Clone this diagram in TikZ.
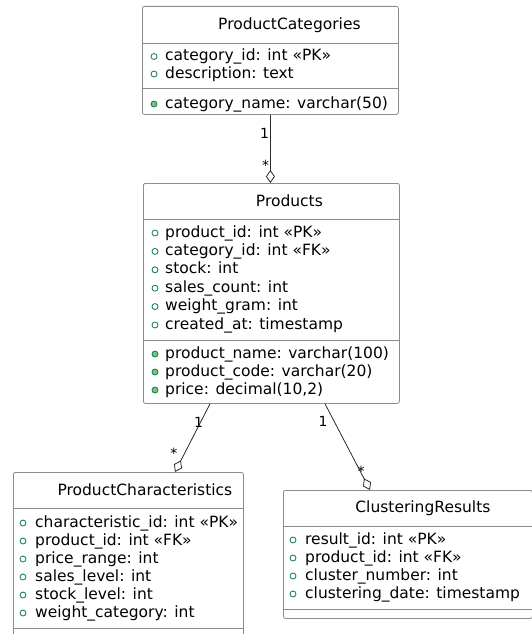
\documentclass[tikz,border=0pt]{standalone}
\usepackage{fontspec}
\setmainfont{DejaVu Sans}
\usetikzlibrary{calc,positioning,arrows.meta}

\definecolor{umlgray}{HTML}{8C8C8C}
\definecolor{umlline}{HTML}{2A2A2A}
\definecolor{fldgreen}{HTML}{038048}
\definecolor{mthgreen}{HTML}{84BE84}

\tikzset{
  classbox/.style={rectangle, draw=umlgray, line width=0.8pt, rounded corners=2pt,
    fill=white, anchor=north west, inner sep=0pt},
  ctitle/.style={inner sep=0pt, font=\fontsize{15.5}{18}\selectfont},
  attr/.style={anchor=west, inner sep=0pt, text height=11.5pt, text depth=3.5pt,
    font=\fontsize{15.5}{18}\selectfont},
  fld/.style={circle, draw=fldgreen, line width=0.8pt, inner sep=0pt, minimum size=6pt},
  mth/.style={fld, fill=mthgreen},
  sepline/.style={draw=umlgray, line width=0.8pt},
  assoc/.style={draw=umlline, line width=0.8pt, -{Diamond[open,length=13pt,width=9pt]}},
  mult/.style={inner sep=1pt, font=\fontsize{14}{16}\selectfont}
}

\begin{document}
\begin{tikzpicture}[x=1pt,y=-1pt]
\useasboundingbox (0,0) rectangle (531,634);

% boxes
\node[classbox, minimum width=256, minimum height=108] (cat) at (142,6) {};
\node[classbox, minimum width=256, minimum height=220] (prod) at (143,183) {};
\node[classbox, minimum width=230, minimum height=200] (chr) at (13,472) {};
\node[classbox, minimum width=249, minimum height=128] (clu) at (283,490) {};

% titles
\node[ctitle] (cat-t) at ($(cat.north)+(19,19)$) {ProductCategories};
\node[ctitle] (prod-t) at ($(prod.north)+(18,18)$) {Products};
\node[ctitle] (chr-t) at ($(chr.north)+(16.5,18)$) {ProductCharacteristics};
\node[ctitle] (clu-t) at ($(clu.north)+(15,18)$) {ClusteringResults};

% separators
\draw[sepline] ($(cat.north west)+(0,37)$) -- ($(cat.north east)+(0,37)$);
\draw[sepline] ($(cat.north west)+(0,82)$) -- ($(cat.north east)+(0,82)$);
\draw[sepline] ($(prod.north west)+(0,36)$) -- ($(prod.north east)+(0,36)$);
\draw[sepline] ($(prod.north west)+(0,157)$) -- ($(prod.north east)+(0,157)$);
\draw[sepline] ($(chr.north west)+(0,36)$) -- ($(chr.north east)+(0,36)$);
\draw[sepline] ($(chr.north west)+(0,156)$) -- ($(chr.north east)+(0,156)$);
\draw[sepline] ($(clu.north west)+(0,36)$) -- ($(clu.north east)+(0,36)$);
\draw[sepline] ($(clu.north west)+(0,119)$) -- ($(clu.north east)+(0,119)$);

% ProductCategories
\foreach \txt [count=\i] in {category\_id: int «PK», description: text}{
  \node[fld] (cat-c\i) at ($(cat.north west)+(12,{33+17.5*\i})$) {};
  \node[attr] (cat-a\i) at ($(cat.north west)+(23,{33+17.5*\i})$) {\txt};
}
\node[mth] (cat-m1c) at ($(cat.north west)+(12,98)$) {};
\node[attr] (cat-m1) at ($(cat.north west)+(23,98)$) {category\_name: varchar(50)};

% Products
\foreach \txt [count=\i] in {product\_id: int «PK», category\_id: int «FK», stock: int,
    sales\_count: int, weight\_gram: int, created\_at: timestamp}{
  \node[fld] (prod-c\i) at ($(prod.north west)+(12,{31.6+18.4*\i})$) {};
  \node[attr] (prod-a\i) at ($(prod.north west)+(22,{31.6+18.4*\i})$) {\txt};
}
\foreach \txt [count=\i] in {product\_name: varchar(100), product\_code: varchar(20),
    {price: decimal(10,2)}}{
  \node[mth] (prod-mc\i) at ($(prod.north west)+(12,{153+18*\i})$) {};
  \node[attr] (prod-m\i) at ($(prod.north west)+(22,{153+18*\i})$) {\txt};
}

% ProductCharacteristics
\foreach \txt [count=\i] in {characteristic\_id: int «PK», product\_id: int «FK»,
    price\_range: int, sales\_level: int, stock\_level: int, weight\_category: int}{
  \node[fld] (chr-c\i) at ($(chr.north west)+(10,{33+18*\i})$) {};
  \node[attr] (chr-a\i) at ($(chr.north west)+(22,{33+18*\i})$) {\txt};
}

% ClusteringResults
\foreach \txt [count=\i] in {result\_id: int «PK», product\_id: int «FK»,
    cluster\_number: int, clustering\_date: timestamp}{
  \node[fld] (clu-c\i) at ($(clu.north west)+(10,{32+18*\i})$) {};
  \node[attr] (clu-a\i) at ($(clu.north west)+(22,{32+18*\i})$) {\txt};
}

% relations
\draw[assoc] (cat.south) -- (cat.south |- prod.north)
  node[mult, pos=0.28, left] (m1a) {1}
  node[mult, pos=0.74, left] (m1b) {*};
\draw[assoc] ($(prod.south west)+(67,0)$) -- ($(chr.north west)+(162,0)$)
  node[mult, pos=0.27, xshift=-2pt] (m2a) {1}
  node[mult, pos=0.72, xshift=-11pt] (m2b) {*};
\draw[assoc] ($(prod.south west)+(182,0)$) -- ($(clu.north west)+(87,0)$)
  node[mult, pos=0.2, xshift=-11pt] (m3a) {1}
  node[mult, pos=0.78, xshift=1pt] (m3b) {*};
\end{tikzpicture}
\end{document}
